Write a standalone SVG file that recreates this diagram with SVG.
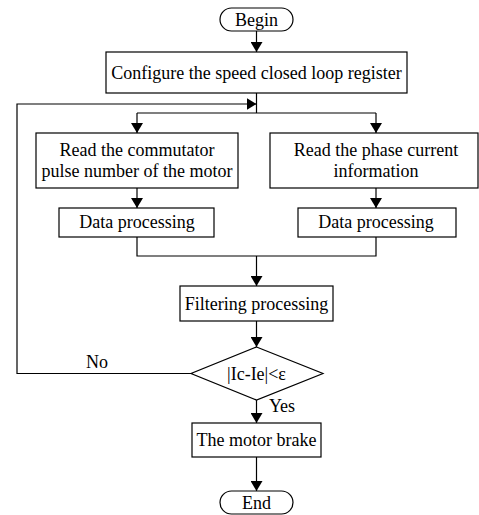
<svg xmlns="http://www.w3.org/2000/svg" width="479" height="515" viewBox="0 0 479 515">
<style>
.box{fill:#fff;stroke:#000;stroke-width:1.2}
.ln{fill:none;stroke:#000;stroke-width:1.2}
text{font-family:"Liberation Serif","Times New Roman",serif;font-size:18px;fill:#000;text-anchor:middle}
</style>
<defs>
<marker id="ah" markerWidth="10" markerHeight="12" refX="10" refY="6" orient="auto" markerUnits="userSpaceOnUse">
<path d="M0,0 L10,6 L0,12 Z" fill="#000"/>
</marker>
</defs>
<rect width="479" height="515" fill="#fff"/>
<g id="connectors">
<path class="ln" d="M256.5,31 V52" marker-end="url(#ah)"/>
<path class="ln" d="M256.5,93 V113"/>
<path class="ln" d="M137,113 H376"/>
<path class="ln" d="M137,113 V133" marker-end="url(#ah)"/>
<path class="ln" d="M376,113 V133" marker-end="url(#ah)"/>
<path class="ln" d="M137,188 V208" marker-end="url(#ah)"/>
<path class="ln" d="M376,188 V208" marker-end="url(#ah)"/>
<path class="ln" d="M137,237 V256 H376 V237"/>
<path class="ln" d="M256.5,256 V286" marker-end="url(#ah)"/>
<path class="ln" d="M256.5,321 V347" marker-end="url(#ah)"/>
<path class="ln" d="M191,373.5 H17 V104 H256.5" marker-end="url(#ah)"/>
<path class="ln" d="M256.5,400 V423" marker-end="url(#ah)"/>
<path class="ln" d="M256.5,457 V491" marker-end="url(#ah)"/>
<text x="97" y="368">No</text>
<text x="282" y="412">Yes</text>
</g>
<g id="begin">
<rect class="box" x="220" y="8" width="73" height="23" rx="11.5"/>
<text x="256.5" y="26">Begin</text>
</g>
<g id="config">
<rect class="box" x="106" y="52" width="301" height="41"/>
<text x="256.5" y="79">Configure the speed closed loop register</text>
</g>
<g id="read-pulse">
<rect class="box" x="36" y="133" width="202" height="55"/>
<text x="137" y="156">Read the commutator</text>
<text x="137" y="177">pulse number of the motor</text>
</g>
<g id="read-current">
<rect class="box" x="270" y="133" width="208" height="55"/>
<text x="376" y="156">Read the phase current</text>
<text x="376" y="177">information</text>
</g>
<g id="data1">
<rect class="box" x="59" y="208" width="155" height="29"/>
<text x="137" y="228">Data processing</text>
</g>
<g id="data2">
<rect class="box" x="298" y="208" width="158" height="29"/>
<text x="376" y="228">Data processing</text>
</g>
<g id="filter">
<rect class="box" x="180" y="286" width="153" height="35"/>
<text x="256.5" y="310">Filtering processing</text>
</g>
<g id="decision">
<path class="box" d="M256.5,347 L323,373.5 L256.5,400 L191,373.5 Z"/>
<text x="256.5" y="380">|Ic-Ie|&lt;ε</text>
</g>
<g id="brake">
<rect class="box" x="192" y="423" width="129" height="34"/>
<text x="256.5" y="446">The motor brake</text>
</g>
<g id="end">
<rect class="box" x="220" y="491" width="73" height="23" rx="11.5"/>
<text x="256.5" y="509">End</text>
</g>
</svg>
